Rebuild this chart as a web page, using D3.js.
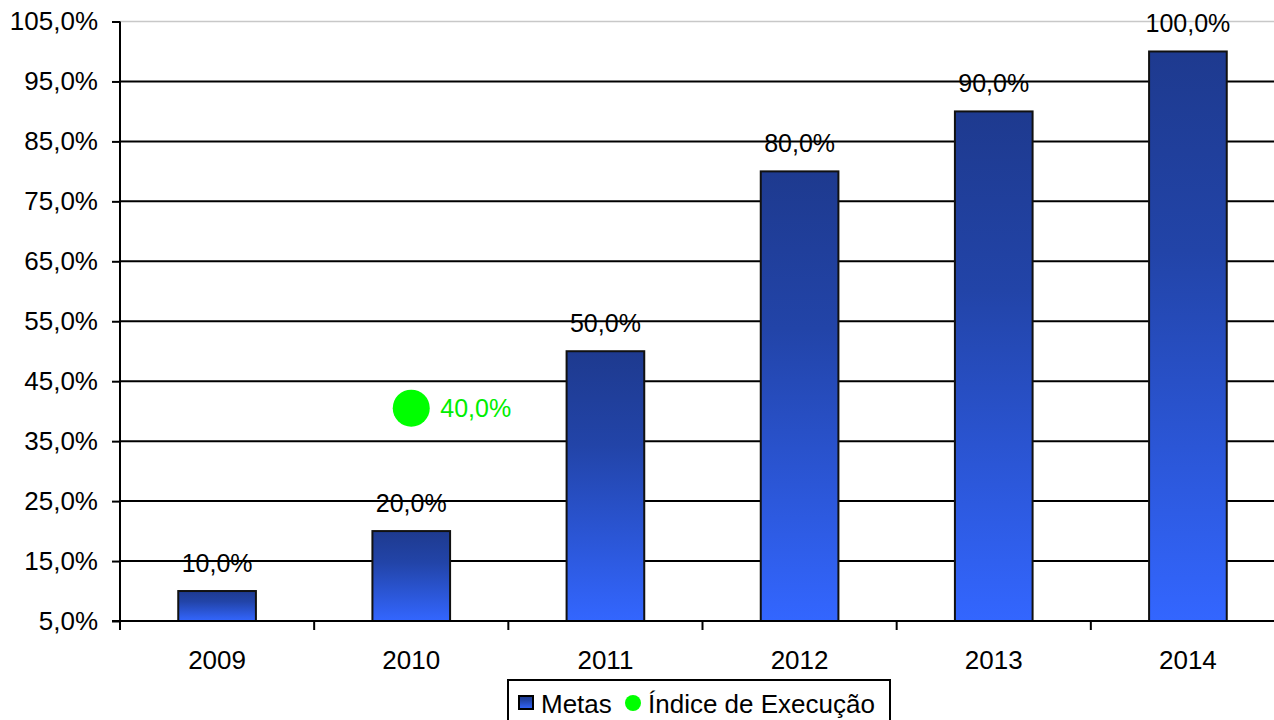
<!DOCTYPE html>
<html><head><meta charset="utf-8">
<script src="https://cdn.jsdelivr.net/npm/d3@7"></script>
<style>html,body{margin:0;padding:0;background:#fff;overflow:hidden}svg{display:block;font-family:"Liberation Sans",Arial,sans-serif}</style>
</head><body>
<script>
const categories = ["2009","2010","2011","2012","2013","2014"];
const metas = [10, 20, 50, 80, 90, 100];
const indiceCategories = ["2010"];
const indiceValues = [40];
const yTicks = [5,15,25,35,45,55,65,75,85,95,105];
const seriesNames = ["Metas","Índice de Execução"];

const W = 1274, H = 720;
const svg = d3.select("body").append("svg").attr("width", W).attr("height", H);
const fmt = v => v.toFixed(1).replace(".", ",") + "%";

const x = d3.scaleBand().domain(categories).range([120, 1285]).paddingInner(0.6).paddingOuter(0.3);
const xb = d3.scaleBand().domain(categories).range([120, 1285]).padding(0);
const y = d3.scaleLinear().domain([5, 105]).range([621, 21.5]);

const defs = svg.append("defs");
const g = defs.append("linearGradient").attr("id","barGrad").attr("x1",0).attr("y1",0).attr("x2",0).attr("y2",1);
g.append("stop").attr("offset","0%").attr("stop-color","#1e3a8f");
g.append("stop").attr("offset","35%").attr("stop-color","#2244a8");
g.append("stop").attr("offset","100%").attr("stop-color","#3366ff");

// gridlines
svg.append("g").selectAll("line").data(yTicks.filter(t => t > 5)).join("line")
  .attr("x1", 120).attr("x2", W).attr("y1", d => y(d)).attr("y2", d => y(d))
  .attr("stroke", d => d === 105 ? "#c8c8c8" : "#000").attr("stroke-width", d => d === 105 ? 1.5 : 2);

// bars
svg.append("g").selectAll("rect").data(categories).join("rect")
  .attr("x", d => x(d)).attr("width", x.bandwidth())
  .attr("y", (d,i) => y(metas[i])).attr("height", (d,i) => y(5) - y(metas[i]))
  .attr("fill", "url(#barGrad)").attr("stroke", "#111").attr("stroke-width", 2);

// y axis
const ya = svg.append("g").attr("transform", "translate(120,0)")
  .call(d3.axisLeft(y).tickValues(yTicks).tickFormat(fmt).tickSize(8).tickPadding(14));
ya.select(".domain").remove();
ya.selectAll(".tick line").attr("stroke","#000").attr("stroke-width",2);
ya.selectAll(".tick text").attr("font-size", 26).attr("fill","#000").attr("font-family","Liberation Sans, Arial, sans-serif");
svg.append("line").attr("x1",120).attr("x2",120).attr("y1",y(105)).attr("y2",y(5)+9).attr("stroke","#000").attr("stroke-width",2);

// x axis
svg.append("line").attr("x1",112).attr("x2",W).attr("y1",y(5)).attr("y2",y(5)).attr("stroke","#000").attr("stroke-width",2);
svg.append("g").selectAll("line").data(categories).join("line")
  .attr("x1", d => xb(d)).attr("x2", d => xb(d)).attr("y1", y(5)).attr("y2", y(5)+9)
  .attr("stroke","#000").attr("stroke-width",2);
svg.append("g").selectAll("text").data(categories).join("text")
  .attr("x", d => xb(d) + xb.bandwidth()/2).attr("y", 669)
  .attr("text-anchor","middle").attr("font-size",26).attr("fill","#000").text(d => d);

// bar labels
svg.append("g").selectAll("text").data(categories).join("text")
  .attr("x", d => x(d) + x.bandwidth()/2).attr("y", (d,i) => y(metas[i]) - 19)
  .attr("text-anchor","middle").attr("font-size",25).attr("fill","#000").text((d,i) => fmt(metas[i]));

// indice points
const pts = svg.append("g");
indiceCategories.forEach((c, i) => {
  const cx = xb(c) + xb.bandwidth()/2, cy = y(indiceValues[i]) - 3;
  pts.append("circle").attr("cx", cx).attr("cy", cy).attr("r", 18.5).attr("fill", "#00ff00");
  pts.append("text").attr("x", cx + 29).attr("y", cy + 9).attr("font-size", 25).attr("fill", "#00ee00").text(fmt(indiceValues[i]));
});

// legend
const lg = svg.append("g");
lg.append("rect").attr("x", 508).attr("y", 680).attr("width", 382).attr("height", 50).attr("fill","#fff").attr("stroke","#000").attr("stroke-width",2);
lg.append("rect").attr("x", 519).attr("y", 696).attr("width", 14).attr("height", 13).attr("fill","url(#barGrad)").attr("stroke","#000").attr("stroke-width",2);
lg.append("text").attr("x", 541).attr("y", 713).attr("font-size", 26).attr("fill","#000").text(seriesNames[0]);
lg.append("circle").attr("cx", 633).attr("cy", 703).attr("r", 8).attr("fill","#00ff00");
lg.append("text").attr("x", 648).attr("y", 713).attr("font-size", 26).attr("fill","#000").text(seriesNames[1]);
</script>
</body></html>
